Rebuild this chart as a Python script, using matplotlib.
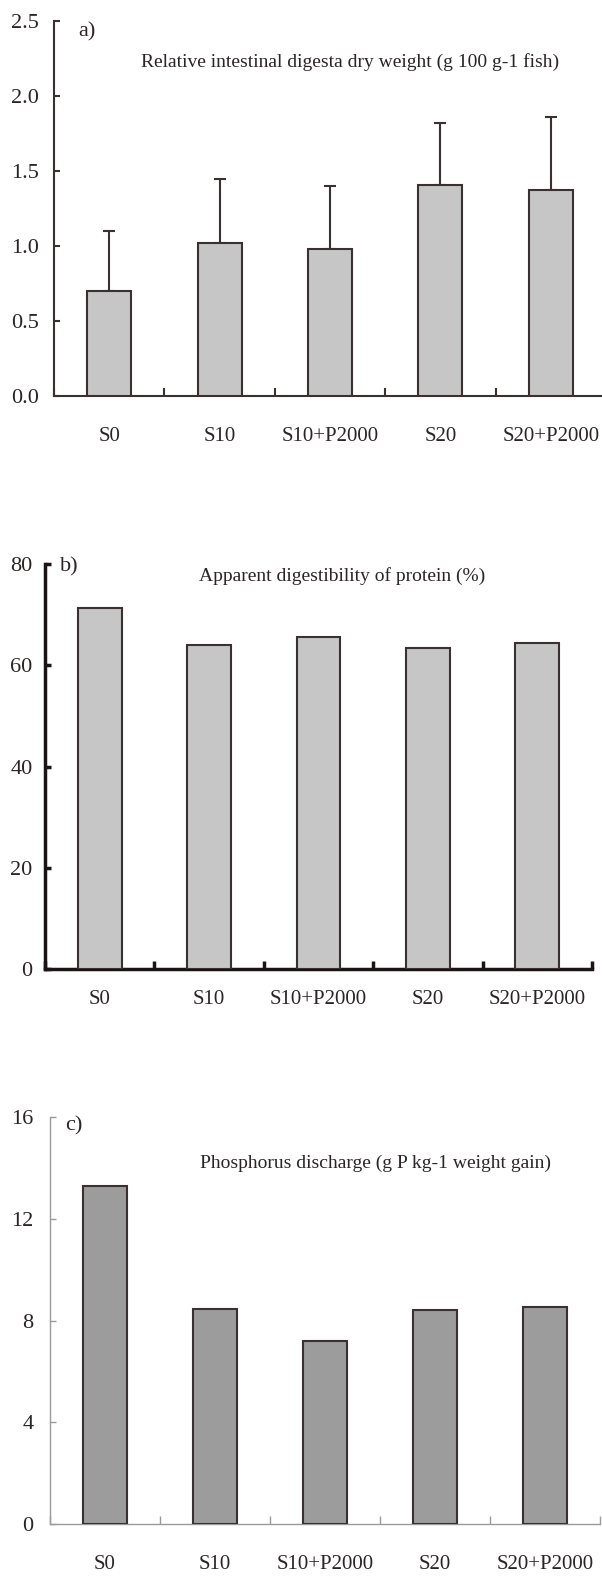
import numpy as np
import matplotlib
matplotlib.use('Agg')
import matplotlib.pyplot as plt

plt.rcParams['font.family'] = ['Liberation Serif', 'DejaVu Serif']

categories = ['S0', 'S10', 'S10+P2000', 'S20', 'S20+P2000']

digesta = [0.70, 1.02, 0.98, 1.41, 1.37]
digesta_err = [0.40, 0.43, 0.42, 0.41, 0.49]
protein = [71.3, 64.0, 65.6, 63.4, 64.4]
phosphorus = [13.3, 8.46, 7.2, 8.4, 8.55]

W, H = 602, 1577
fig = plt.figure(figsize=(W / 100, H / 100), dpi=100)


def px_axes(left, right, top, bottom):
    return fig.add_axes([left / W, 1 - bottom / H, (right - left) / W, (bottom - top) / H])


def style(ax, color, lw, ypad, xpad, yticks, fmt):
    x = np.arange(len(categories))
    for s in ['top', 'right']:
        ax.spines[s].set_visible(False)
    for s in ['left', 'bottom']:
        ax.spines[s].set_color(color)
        ax.spines[s].set_linewidth(lw)
    ax.set_xlim(-0.5, len(categories) - 0.5)
    ax.set_xticks(x[:-1] + 0.5)
    ax.set_xticks([-0.5, *(x + 0.5)])
    ax.set_xticklabels([])
    ax.set_xticks(x, minor=True)
    ax.set_xticklabels(categories, minor=True)
    ax.tick_params(axis='x', which='major', direction='in', length=5.5, width=lw, color=color)
    ax.tick_params(axis='x', which='minor', length=0, pad=xpad, labelsize=15, labelcolor='#2a2424')
    ax.set_yticks(yticks)
    ax.set_yticklabels([fmt % v for v in yticks])
    ax.set_ylim(yticks[0], yticks[-1])
    ax.tick_params(axis='y', direction='in', length=4.5, width=lw, color=color, pad=ypad,
                   labelsize=16, labelcolor='#2a2424')


x = np.arange(len(categories))

# a) digesta dry weight
ax = px_axes(54, 606, 21, 396)
ax.bar(x, digesta, width=0.4, color='#c6c6c6', edgecolor='#3a3030', linewidth=1.5, zorder=3)
ax.errorbar(x, digesta, yerr=[np.zeros(len(x)), digesta_err], fmt='none',
            ecolor='#3a3030', elinewidth=1.5, capsize=4.3, capthick=1.5, zorder=2)
style(ax, '#3a3030', 1.5, 11, 22, [0, 0.5, 1.0, 1.5, 2.0, 2.5], '%.1f')
fig.text(78 / W, 1 - 32 / H, 'a)', fontsize=16, va='center', color='#2a2424')
fig.text(350 / W, 1 - 62 / H, 'Relative intestinal digesta dry weight (g 100 g-1 fish)',
         fontsize=14, ha='center', va='center', color='#2a2424')

# b) protein digestibility
ax = px_axes(45, 592, 564, 969)
ax.bar(x, protein, width=0.4, color='#c6c6c6', edgecolor='#3a3030', linewidth=1.5, zorder=3)
style(ax, '#1a1414', 2.5, 9, 15, [0, 20, 40, 60, 80], '%d')
fig.text(60 / W, 1 - 567 / H, 'b)', fontsize=16, va='center', color='#2a2424')
fig.text(342 / W, 1 - 576 / H, 'Apparent digestibility of protein (%)',
         fontsize=14, ha='center', va='center', color='#2a2424')

# c) phosphorus discharge
ax = px_axes(50, 600, 1117, 1524)
ax.bar(x, phosphorus, width=0.4, color='#9c9c9c', edgecolor='#3a3030', linewidth=1.5, zorder=3)
style(ax, '#9a9a9a', 1.0, 12, 22, [0, 4, 8, 12, 16], '%d')
fig.text(65 / W, 1 - 1126 / H, 'c)', fontsize=16, va='center', color='#2a2424')
fig.text(376 / W, 1 - 1163 / H, 'Phosphorus discharge (g P kg-1 weight gain)',
         fontsize=14, ha='center', va='center', color='#2a2424')

fig.savefig('out.png', dpi=100)
